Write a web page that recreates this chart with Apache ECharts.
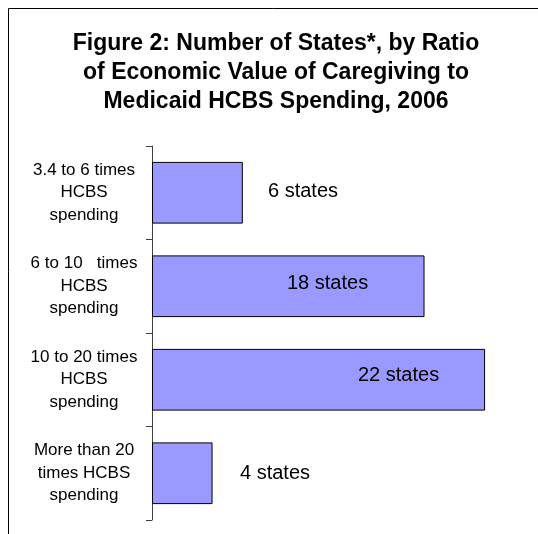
<!DOCTYPE html>
<html>
<head>
<meta charset="utf-8">
<script src="https://cdn.jsdelivr.net/npm/echarts@6/dist/echarts.min.js"></script>
<style>
html,body{margin:0;padding:0;background:#fff;}
#chart{width:538px;height:534px;}
</style>
</head>
<body>
<div id="chart"></div>
<script>
const titleText = 'Figure 2: Number of States*, by Ratio\nof Economic Value of Caregiving to\nMedicaid HCBS Spending, 2006';
const categories = [
  '3.4 to 6 times\nHCBS\nspending',
  '6 to 10   times\nHCBS\nspending',
  '10 to 20 times\nHCBS\nspending',
  'More than 20\ntimes HCBS\nspending'
];
const stateCounts = [6, 18, 22, 4];
const valueLabels = ['6 states', '18 states', '22 states', '4 states'];

const chart = echarts.init(document.getElementById('chart'), null, {renderer: 'canvas'});

// label placement (px from bar's left edge, vertical nudge)
const labelPlace = [
  {dx: 116, dy: -1},
  {dx: 135, dy: -3},
  {dx: 206, dy: -4},
  {dx: 88, dy: 0}
];

const seriesData = stateCounts.map((v, i) => ({
  value: v,
  label: {
    position: [labelPlace[i].dx, '50%'],
    offset: [0, labelPlace[i].dy],
    formatter: () => valueLabels[i]
  }
}));

chart.setOption({
  backgroundColor: '#fff',
  animation: false,
  title: {
    text: titleText,
    left: 271,
    top: 29,
    padding: [0, 0, 0, 5],
    textAlign: 'center',
    textStyle: {
      fontFamily: 'Liberation Sans, Arial, sans-serif',
      fontWeight: 'bold',
      fontSize: 23,
      lineHeight: 29,
      color: '#000'
    }
  },
  graphic: [{
    type: 'rect',
    shape: {x: 8.5, y: 8.5, width: 700, height: 700},
    style: {fill: 'none', stroke: '#000', lineWidth: 1},
    silent: true,
    z: 100
  }],
  grid: {left: 152, top: 146, width: 378.5, height: 374, containLabel: false},
  xAxis: {
    type: 'value', min: 0, max: 25, show: false
  },
  yAxis: {
    type: 'category',
    data: categories,
    inverse: true,
    axisLine: {show: true, lineStyle: {color: '#404040', width: 1}},
    axisTick: {show: true, length: 6, lineStyle: {color: '#404040', width: 1}},
    splitLine: {show: false},
    axisLabel: {
      margin: 68,
      align: 'center',
      fontFamily: 'Liberation Sans, Arial, sans-serif',
      fontSize: 17,
      lineHeight: 22.5,
      color: '#000'
    }
  },
  series: [{
    type: 'bar',
    data: seriesData,
    barCategoryGap: '34%',
    itemStyle: {color: '#9999FF', borderColor: '#000', borderWidth: 1},
    label: {
      show: true,
      align: 'left',
      verticalAlign: 'middle',
      fontFamily: 'Liberation Sans, Arial, sans-serif',
      fontSize: 20,
      color: '#000'
    }
  }]
});
</script>
</body>
</html>
